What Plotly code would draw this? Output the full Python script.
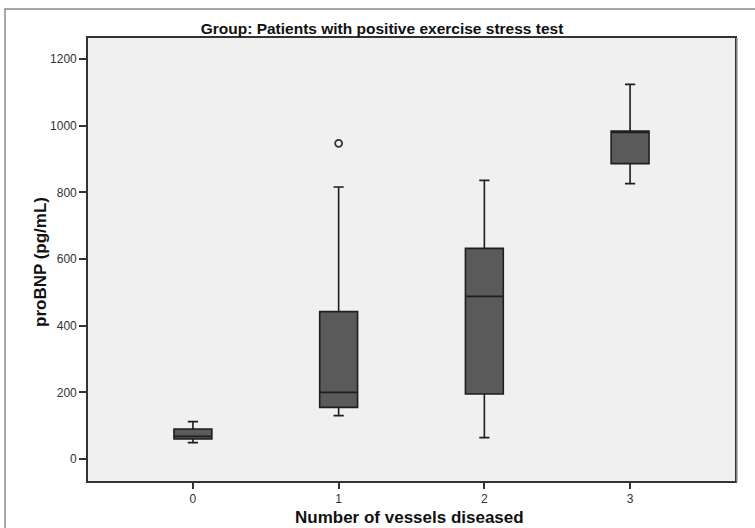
import plotly.graph_objects as go

# Number of diseased vessels and proBNP box statistics (pg/mL)
vessels = [0, 1, 2, 3]
lower_whisker = [49, 130, 64, 826]
q1 = [60, 155, 195, 886]
median = [68, 200, 488, 980]
q3 = [90, 442, 632, 984]
upper_whisker = [112, 816, 836, 1124]

# Outlying observations
outlier_x = [1]
outlier_y = [947]

y_ticks = [0, 200, 400, 600, 800, 1000, 1200]
x_ticks = [0, 1, 2, 3]

W, H = 755, 528
L, R, T, B = 88, 20, 38, 47
pw, ph = W - L - R, H - T - B

def px_x(p):
    return (p - L) / pw

def px_y(p):
    return (H - B - p) / ph

fig = go.Figure()

fig.add_trace(go.Box(
    x=vessels,
    q1=q1, median=median, q3=q3,
    lowerfence=lower_whisker, upperfence=upper_whisker,
    width=0.26,
    whiskerwidth=0.27,
    fillcolor="#5a5a5a",
    line=dict(color="#1e1e1e", width=1.6),
    boxpoints=False,
    showlegend=False,
    hoverinfo="skip",
))

fig.add_trace(go.Scatter(
    x=outlier_x, y=outlier_y,
    mode="markers",
    marker=dict(symbol="circle-open", size=7, color="#333333",
                line=dict(width=1.8, color="#333333")),
    showlegend=False,
    hoverinfo="skip",
))

font_family = "Arial, Liberation Sans, sans-serif"

fig.update_layout(
    width=W, height=H,
    margin=dict(l=L, r=R, t=T, b=B, pad=0),
    paper_bgcolor="white",
    plot_bgcolor="#f0f0f0",
    font=dict(family=font_family, color="#222222"),
    title=dict(
        text="<b>Group: Patients with positive exercise stress test</b>",
        x=382 / W, xref="container", xanchor="center",
        y=1 - 29 / H, yref="container", yanchor="middle",
        font=dict(size=15.5, color="#111111", family=font_family),
    ),
    xaxis=dict(
        range=[-0.72, 3.72],
        tickvals=x_ticks,
        ticktext=[str(v) for v in x_ticks],
        ticks="outside", ticklen=6, tickwidth=1.5, tickcolor="#333333",
        tickfont=dict(size=12, color="#333333"),
        showgrid=False, zeroline=False, automargin=False,
        showline=True, linecolor="#333333", linewidth=1.6, mirror=True,
    ),
    yaxis=dict(
        range=[-66, 1263],
        tickvals=y_ticks,
        ticks="outside", ticklen=7, tickwidth=1.5, tickcolor="#333333",
        tickfont=dict(size=12, color="#333333"),
        showgrid=False, zeroline=False, automargin=False,
        showline=True, linecolor="#333333", linewidth=1.6, mirror=True,
    ),
    annotations=[
        dict(text="<b>Number of vessels diseased</b>",
             xref="paper", yref="paper", x=px_x(409), y=px_y(517),
             xanchor="center", yanchor="middle", showarrow=False,
             font=dict(size=17, color="#111111")),
        dict(text="<b>proBNP (pg/mL)</b>",
             xref="paper", yref="paper", x=px_x(40), y=px_y(262),
             xanchor="center", yanchor="middle", showarrow=False,
             textangle=-90, font=dict(size=17, color="#111111")),
    ],
    shapes=[
        # outer chart frame, running past the right and bottom edges
        dict(type="rect", xref="paper", yref="paper",
             x0=px_x(5), x1=px_x(770), y0=px_y(540), y1=px_y(9),
             line=dict(color="#8a8a8a", width=1.5), layer="below"),
        # soft shadow along the right of the plot frame
        dict(type="line", xref="paper", yref="paper",
             x0=px_x(737), x1=px_x(737), y0=px_y(482), y1=px_y(38),
             line=dict(color="#a0a0a0", width=1.5)),
    ],
)

fig.write_html("out.html")
